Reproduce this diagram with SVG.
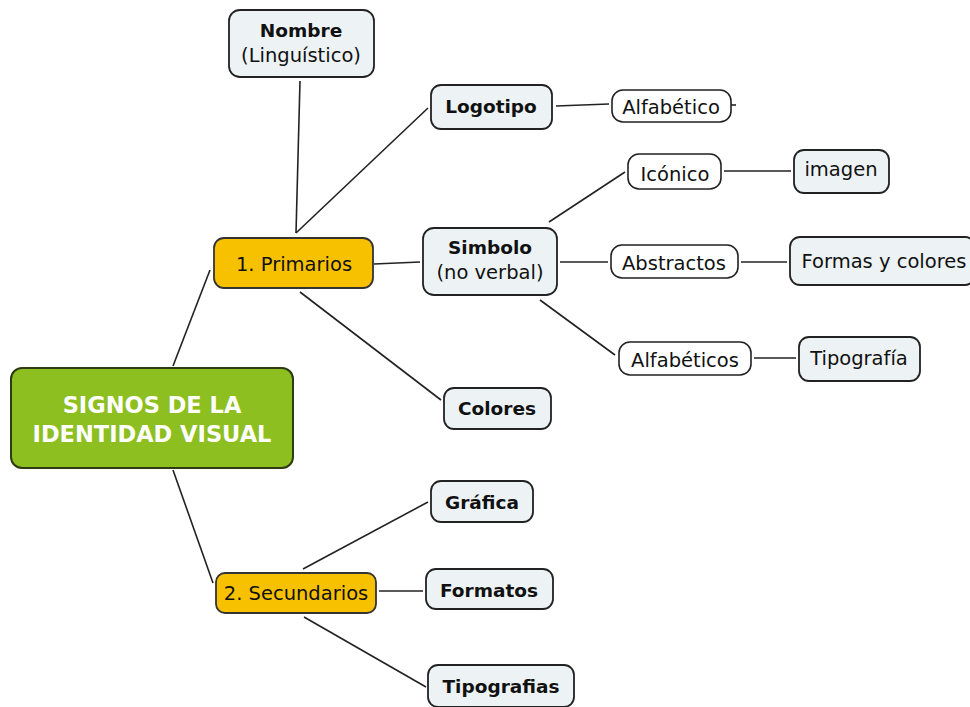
<svg xmlns="http://www.w3.org/2000/svg" width="970" height="707" viewBox="0 0 970 707">
  <style>
    .box { fill: #edf3f5; stroke: #222; stroke-width: 1.8; }
    .pill { fill: #ffffff; stroke: #222; stroke-width: 1.6; }
    .orange { fill: #f7c100; stroke: #333; stroke-width: 1.8; }
    .root { fill: #8cbf1f; stroke: #2d3a12; stroke-width: 2; }
    .link { stroke: #222; stroke-width: 1.6; fill: none; }
    text { font-family: "DejaVu Sans", Verdana, sans-serif; font-size: 19.5px; fill: #111; text-anchor: middle; }
    .b { font-weight: bold; font-size: 18.5px; }
    .w { fill: #ffffff; font-weight: bold; font-size: 22.5px; }
  </style>
  <rect width="970" height="707" fill="#ffffff"/>

  <g id="connectors">
    <line class="link" x1="173" y1="366" x2="210" y2="270"/>
    <line class="link" x1="173" y1="470" x2="213" y2="583"/>
    <line class="link" x1="296" y1="233" x2="300" y2="81"/>
    <line class="link" x1="296" y1="233" x2="428" y2="108"/>
    <line class="link" x1="374" y1="264" x2="420" y2="262"/>
    <line class="link" x1="300" y1="292" x2="441" y2="400"/>
    <line class="link" x1="556" y1="106" x2="609" y2="104"/>
    <line class="link" x1="731" y1="105" x2="736" y2="105"/>
    <line class="link" x1="549" y1="222" x2="625" y2="172"/>
    <line class="link" x1="560" y1="262" x2="608" y2="262"/>
    <line class="link" x1="540" y1="300" x2="615" y2="355"/>
    <line class="link" x1="724" y1="171" x2="791" y2="171"/>
    <line class="link" x1="741" y1="262" x2="787" y2="262"/>
    <line class="link" x1="754" y1="358" x2="796" y2="358"/>
    <line class="link" x1="303" y1="569" x2="428" y2="502"/>
    <line class="link" x1="379" y1="591" x2="423" y2="591"/>
    <line class="link" x1="304" y1="617" x2="426" y2="687"/>
  </g>

  <g id="root">
    <rect class="root" x="11" y="368" width="282" height="100" rx="11"/>
    <text class="w" x="152" y="413">SIGNOS DE LA</text>
    <text class="w" x="152" y="442">IDENTIDAD VISUAL</text>
  </g>

  <g id="primarios">
    <rect class="orange" x="214" y="238" width="159" height="50" rx="10"/>
    <text x="294" y="271">1. Primarios</text>
  </g>

  <g id="secundarios">
    <rect class="orange" x="216" y="573" width="160" height="40" rx="9"/>
    <text x="296" y="600">2. Secundarios</text>
  </g>

  <g id="nombre">
    <rect class="box" x="229" y="10" width="145" height="67" rx="11"/>
    <text class="b" x="301" y="37">Nombre</text>
    <text x="301" y="62">(Linguístico)</text>
  </g>

  <g id="logotipo">
    <rect class="box" x="431" y="85" width="121" height="44" rx="10"/>
    <text class="b" x="491" y="113">Logotipo</text>
  </g>

  <g id="alfabetico">
    <rect class="pill" x="612" y="90" width="119" height="32" rx="11"/>
    <text x="671" y="114">Alfabético</text>
  </g>

  <g id="simbolo">
    <rect class="box" x="423" y="228" width="134" height="67" rx="11"/>
    <text class="b" x="490" y="254">Simbolo</text>
    <text x="490" y="279">(no verbal)</text>
  </g>

  <g id="iconico">
    <rect class="pill" x="628" y="154" width="93" height="35" rx="11"/>
    <text x="675" y="181">Icónico</text>
  </g>

  <g id="imagen">
    <rect class="box" x="794" y="150" width="95" height="43" rx="10"/>
    <text x="841" y="176">imagen</text>
  </g>

  <g id="abstractos">
    <rect class="pill" x="611" y="245" width="127" height="33" rx="11"/>
    <text x="674" y="270">Abstractos</text>
  </g>

  <g id="formas">
    <rect class="box" x="790" y="237" width="185" height="48" rx="10"/>
    <text x="884" y="268">Formas y colores</text>
  </g>

  <g id="alfabeticos">
    <rect class="pill" x="619" y="342" width="132" height="33" rx="11"/>
    <text x="685" y="367">Alfabéticos</text>
  </g>

  <g id="tipografia">
    <rect class="box" x="799" y="337" width="121" height="44" rx="10"/>
    <text x="859" y="365">Tipografía</text>
  </g>

  <g id="colores">
    <rect class="box" x="444" y="388" width="107" height="41" rx="10"/>
    <text class="b" x="497" y="415">Colores</text>
  </g>

  <g id="grafica">
    <rect class="box" x="431" y="481" width="102" height="41" rx="10"/>
    <text class="b" x="482" y="509">Gráfica</text>
  </g>

  <g id="formatos">
    <rect class="box" x="426" y="569" width="127" height="40" rx="10"/>
    <text class="b" x="489" y="597">Formatos</text>
  </g>

  <g id="tipografias">
    <rect class="box" x="428" y="665" width="146" height="42" rx="10"/>
    <text class="b" x="501" y="693">Tipografias</text>
  </g>
</svg>
